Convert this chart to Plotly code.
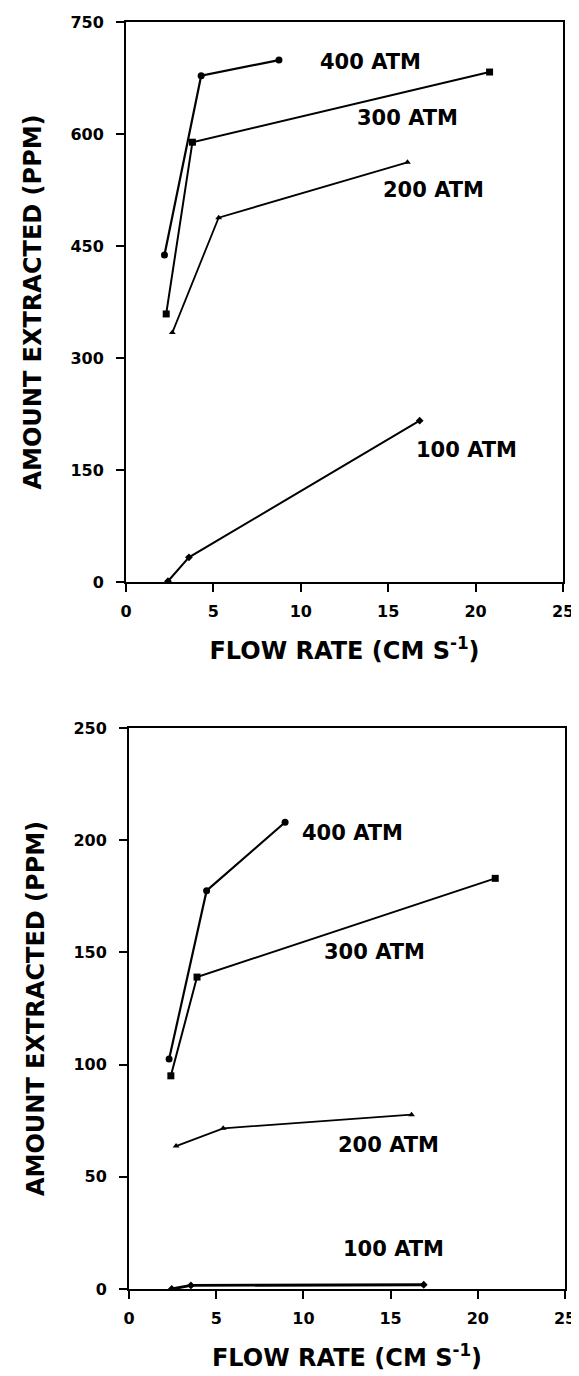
import plotly.graph_objects as go

# ---- data (top panel) ----
top_400_x = [2.2, 4.3, 8.75]
top_400_y = [438, 678, 699]
top_300_x = [2.3, 3.8, 20.8]
top_300_y = [359, 589, 683]
top_200_x = [2.65, 5.3, 16.1]
top_200_y = [334, 488, 562]
top_100_x = [2.4, 3.6, 16.8]
top_100_y = [1, 33, 216]

# ---- data (bottom panel) ----
bot_400_x = [2.3, 4.45, 8.95]
bot_400_y = [102.5, 177.5, 208]
bot_300_x = [2.4, 3.9, 21.0]
bot_300_y = [95, 139, 183]
bot_200_x = [2.7, 5.4, 16.2]
bot_200_y = [63.7, 71.6, 77.7]
bot_100_x = [2.45, 3.55, 16.9]
bot_100_y = [0, 1.6, 1.9]

series_names = ["400 ATM", "300 ATM", "200 ATM", "100 ATM"]
symbols = ["circle", "square", "triangle-up", "diamond"]

top_label_x = [14.0, 16.1, 17.6, 19.5]
top_label_y = [696, 622, 525, 177]
bot_label_x = [12.8, 14.1, 14.9, 15.15]
bot_label_y = [203, 150, 64, 18]

x_ticks = [0, 5, 10, 15, 20, 25]
top_y_ticks = [0, 150, 300, 450, 600, 750]
bot_y_ticks = [0, 50, 100, 150, 200, 250]

x_title = "FLOW RATE (CM S<sup>-1</sup>)"
y_title = "AMOUNT EXTRACTED (PPM)"

FONT = "DejaVu Sans"
fig = go.Figure()

top = [(top_400_x, top_400_y), (top_300_x, top_300_y), (top_200_x, top_200_y), (top_100_x, top_100_y)]
bot = [(bot_400_x, bot_400_y), (bot_300_x, bot_300_y), (bot_200_x, bot_200_y), (bot_100_x, bot_100_y)]
msizes = [7, 7, 6, 6]
lwidths = [2.2, 2.0, 1.8, 2.0]

for i, (xs, ys) in enumerate(top):
    fig.add_trace(go.Scatter(x=xs, y=ys, mode="lines+markers", name=series_names[i],
                             line=dict(color="black", width=lwidths[i]),
                             marker=dict(symbol=symbols[i], size=msizes[i], color="black"),
                             xaxis="x", yaxis="y", showlegend=False))
for i, (xs, ys) in enumerate(bot):
    fig.add_trace(go.Scatter(x=xs, y=ys, mode="lines+markers", name=series_names[i],
                             line=dict(color="black", width=lwidths[i] if i != 3 else 2.8),
                             marker=dict(symbol=symbols[i], size=msizes[i], color="black"),
                             xaxis="x2", yaxis="y2", showlegend=False))

# page body adds an 8px offset; figure is sized to fit the window
OFF = 8
W, H = 579 - OFF, 1376 - OFF


def xd(a, b):
    return [(a - OFF) / W, (b - OFF) / W]


def yd(top_px, bot_px):
    return [(H - (bot_px - OFF)) / H, (H - (top_px - OFF)) / H]


titlefont = dict(family=FONT, size=24, color="black", weight="bold")
axis_common = dict(showgrid=False, zeroline=False, showline=True, linecolor="black",
                   linewidth=2, mirror=True, ticks="outside", ticklen=8, tickwidth=1.5,
                   tickcolor="black", automargin=False,
                   tickfont=dict(family=FONT, size=16, color="black", weight="bold"))

fig.update_layout(
    width=W, height=H, margin=dict(l=0, r=0, t=0, b=0),
    paper_bgcolor="white", plot_bgcolor="white",
    xaxis=dict(domain=xd(126, 563), range=[0, 25], tickvals=x_ticks, anchor="y",
               ticklabelstandoff=6,
               title=dict(text=x_title, font=titlefont, standoff=22), **axis_common),
    yaxis=dict(domain=yd(22, 582), range=[0, 750], tickvals=top_y_ticks,
               anchor="x", ticklabelstandoff=9,
               title=dict(text=y_title, font=titlefont, standoff=22), **axis_common),
    xaxis2=dict(domain=xd(129, 565), range=[0, 25], tickvals=x_ticks, anchor="y2",
                ticklabelstandoff=6,
                title=dict(text=x_title, font=titlefont, standoff=22), **axis_common),
    yaxis2=dict(domain=yd(728, 1289), range=[0, 250], tickvals=bot_y_ticks,
                anchor="x2", ticklabelstandoff=9,
                title=dict(text=y_title, font=titlefont, standoff=22), **axis_common),
)

annfont = dict(family=FONT, size=21, color="black", weight="bold")
for i in range(4):
    fig.add_annotation(x=top_label_x[i], y=top_label_y[i], xref="x", yref="y", text=series_names[i],
                       showarrow=False, font=annfont, xanchor="center", yanchor="middle")
    fig.add_annotation(x=bot_label_x[i], y=bot_label_y[i], xref="x2", yref="y2", text=series_names[i],
                       showarrow=False, font=annfont, xanchor="center", yanchor="middle")

fig.write_html("out.html")
